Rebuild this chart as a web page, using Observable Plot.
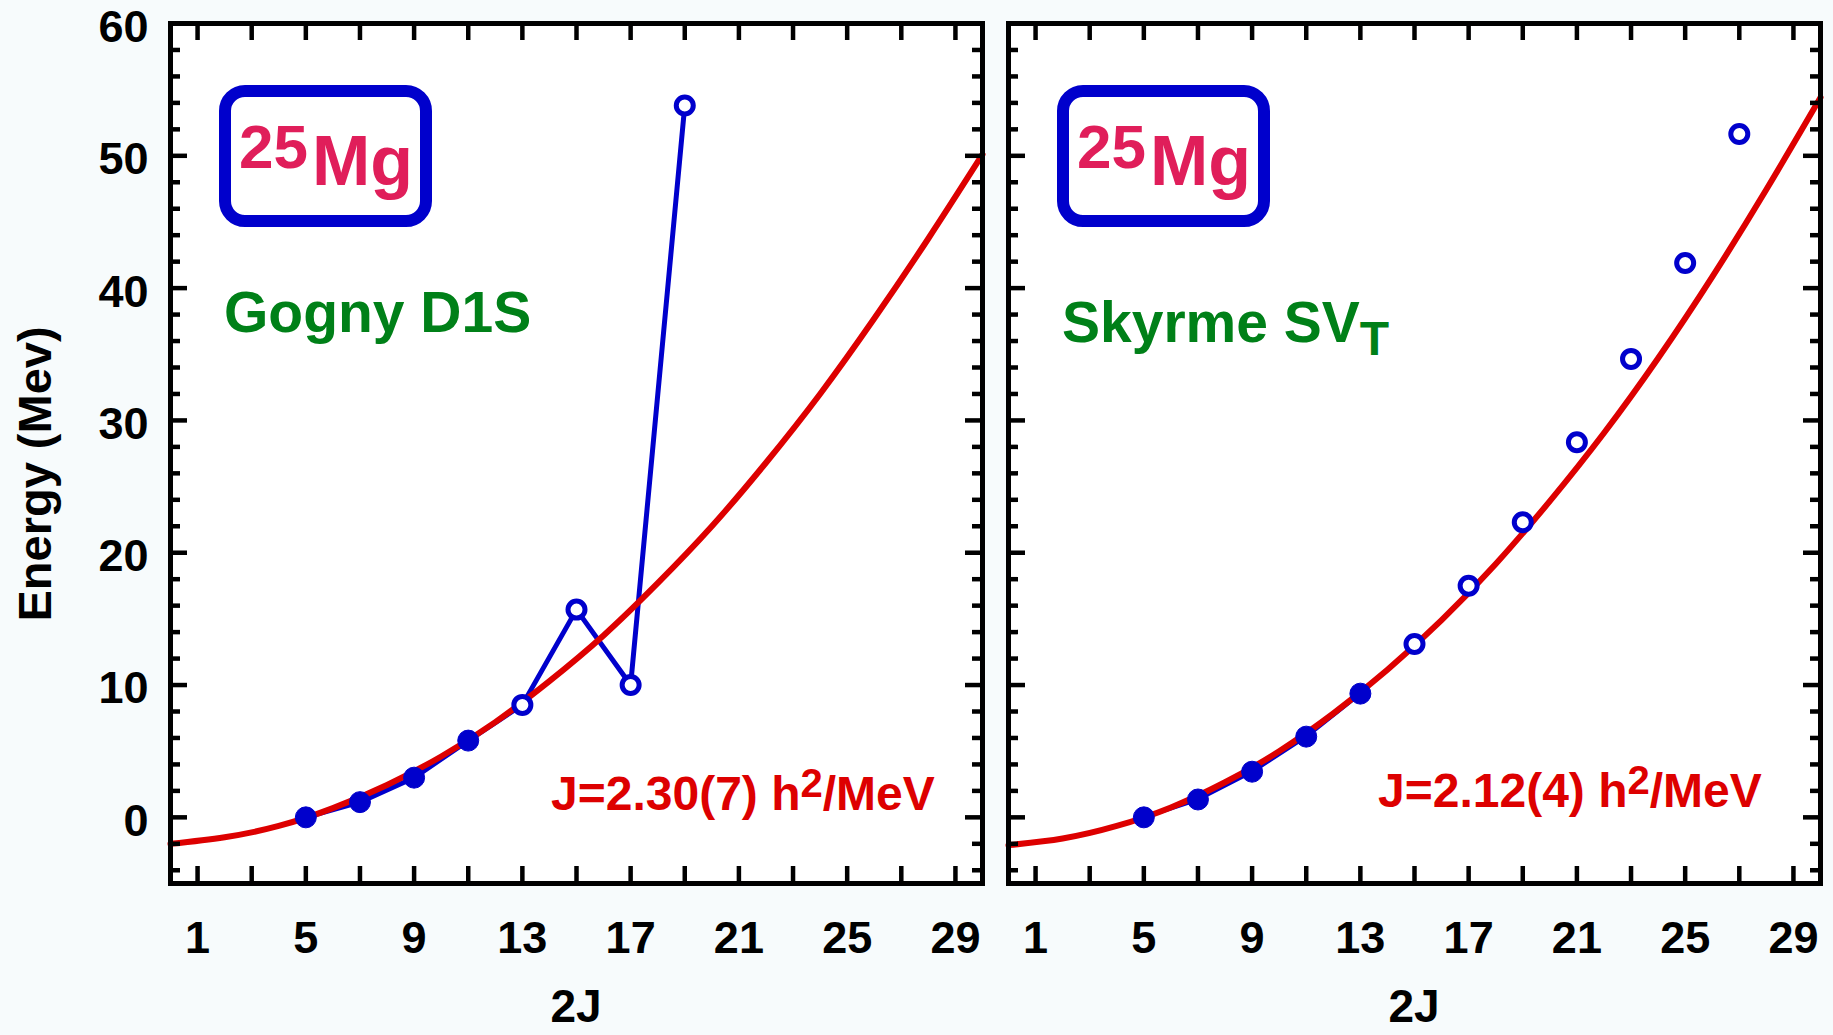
<!DOCTYPE html>
<html>
<head>
<meta charset="utf-8">
<script src="https://cdn.jsdelivr.net/npm/d3@7"></script>
<script src="https://cdn.jsdelivr.net/npm/@observablehq/plot@0.6"></script>
<style>
html, body { margin: 0; padding: 0; background: #f7fbfc; }
#wrap { position: relative; width: 1833px; height: 1035px; overflow: hidden; background: #f7fbfc; }
#wrap svg { position: absolute; top: 0; overflow: visible; }
</style>
</head>
<body>
<div id="wrap"></div>
<script>
// ---------------- data ----------------
// 2J of the calculated states
const stateTwoJ = [5, 7, 9, 11, 13, 15, 17, 19, 21, 23, 25, 27];
// Gogny D1S energies (MeV) for 2J = 5..19
const gognyE = [0.0, 1.15, 3.0, 5.8, 8.5, 15.7, 10.0, 53.8];
// Skyrme SV_T energies (MeV) for 2J = 5..27
const skyrmeE = [0.0, 1.35, 3.45, 6.1, 9.35, 13.1, 17.5, 22.3, 28.35, 34.65, 41.9, 51.65];
// how many of the states (from the lowest) are drawn as filled dots
const gognyFilledCount = 4;
const skyrmeFilledCount = 5;
// fitted rotor curves
const fitTwoJ = [0, 2, 4, 6, 8, 10, 12, 14, 16, 18, 20, 22, 24, 26, 28, 30];
const gognyFit = [-2.0, -1.5, -0.65, 0.7, 2.45, 4.6, 7.2, 10.3, 13.75, 17.7, 22.0, 26.8, 32.0, 37.7, 43.75, 50.1];
const skyrmeFit = [-2.1, -1.6, -0.65, 0.75, 2.65, 5.0, 7.85, 11.15, 14.9, 19.15, 23.9, 29.05, 34.7, 40.85, 47.45, 54.4];
// axes
const xTickLabels = [1, 5, 9, 13, 17, 21, 25, 29];
const xTickMarks = [1, 3, 5, 7, 9, 11, 13, 15, 17, 19, 21, 23, 25, 27, 29];
const yTickLabels = [0, 10, 20, 30, 40, 50, 60];
const yMajorMarks = [0, 10, 20, 30, 40, 50];
const yMinorMarks = [-4, -2, 2, 4, 6, 8, 12, 14, 16, 18, 22, 24, 26, 28, 32, 34, 36, 38, 42, 44, 46, 48, 52, 54, 56, 58];
// texts
const nucleusMass = "25";
const nucleusSymbol = "Mg";
const modelNames = ["Gogny D1S", "Skyrme SV"];
const modelSubscripts = ["", "T"];
const momentTexts = ["J=2.30(7) h", "J=2.12(4) h"];
const yTitle = "Energy (Mev)";
const xTitle = "2J";

// ---------------- style ----------------
const FONT = "'Liberation Sans', Arial, Helvetica, sans-serif";
const BLUE = "#0000cc";
const RED = "#dd0000";
const GREEN = "#008018";
const PINK = "#e01e5a";
const H = 1035, MT = 23, MB = 152;

function panel(cfg) {
  const pw = cfg.width - cfg.mL - cfg.mR;
  const ph = H - MT - MB;
  const pts = cfg.energies.map((e, i) => ({x: stateTwoJ[i], y: e, filled: i < cfg.nFilled}));
  const fitPts = fitTwoJ.map((x, i) => ({x, y: cfg.fit[i]}));
  const linePts = cfg.connectAll ? pts : pts.filter(d => d.filled);
  const tickStyle = {stroke: "black", strokeWidth: 4.5, strokeLinecap: "butt"};
  const marks = [
    Plot.frame({fill: "white", stroke: null}),
    Plot.line(linePts, {x: "x", y: "y", stroke: BLUE, strokeWidth: cfg.connectAll ? 5 : 4}),
    Plot.line(fitPts, {x: "x", y: "y", stroke: RED, strokeWidth: 6, curve: "natural"}),
    Plot.dot(pts.filter(d => d.filled), {x: "x", y: "y", r: 10.5, fill: BLUE, stroke: BLUE, strokeWidth: 1}),
    Plot.dot(pts.filter(d => !d.filled), {x: "x", y: "y", r: 8.5, fill: "white", stroke: BLUE, strokeWidth: 5}),
    Plot.tickX(xTickMarks, {x: d => d, insetTop: ph - 17, ...tickStyle}),
    Plot.tickX(xTickMarks, {x: d => d, insetBottom: ph - 17, ...tickStyle}),
    Plot.tickY(yMajorMarks, {y: d => d, insetRight: pw - 17, ...tickStyle}),
    Plot.tickY(yMajorMarks, {y: d => d, insetLeft: pw - 17, ...tickStyle}),
    Plot.tickY(yMinorMarks, {y: d => d, insetRight: pw - 10, ...tickStyle}),
    Plot.tickY(yMinorMarks, {y: d => d, insetLeft: pw - 10, ...tickStyle}),
    Plot.axisX(xTickLabels, {anchor: "bottom", tickSize: 0, tickPadding: 38, fontSize: 45, fontWeight: "bold", label: null}),
    cfg.showY ? Plot.axisY(yTickLabels, {anchor: "left", tickSize: 0, tickPadding: 22, fontSize: 45, fontWeight: "bold", label: null, dy: 4}) : null,
    Plot.frame({stroke: "black", strokeWidth: 5})
  ].filter(Boolean);

  const svg = Plot.plot({
    width: cfg.width,
    height: H,
    marginLeft: cfg.mL,
    marginRight: cfg.mR,
    marginTop: MT,
    marginBottom: MB,
    x: {domain: [0, 30], label: null, axis: null},
    y: {domain: [-5, 60], label: null, axis: null},
    style: {background: "transparent", fontFamily: FONT, fontWeight: "bold", color: "black", overflow: "visible"},
    marks
  });
  svg.style.left = cfg.left + "px";

  // annotations (positions relative to the plot frame)
  const g = d3.select(svg).append("g")
    .attr("transform", `translate(${cfg.mL},${MT})`)
    .attr("font-family", FONT)
    .attr("font-weight", "bold")
    .attr("text-anchor", "start");
  g.append("rect")
    .attr("x", 55).attr("y", 68).attr("width", 201).attr("height", 130)
    .attr("rx", 20).attr("ry", 20)
    .attr("fill", "white").attr("stroke", BLUE).attr("stroke-width", 12);
  g.append("text").attr("text-anchor", "start").attr("x", 69).attr("y", 145).attr("font-size", 62).attr("fill", PINK).text(nucleusMass);
  g.append("text").attr("text-anchor", "start").attr("x", 142).attr("y", 162).attr("font-size", 70).attr("fill", PINK).text(nucleusSymbol);

  const name = g.append("text").attr("text-anchor", "start").attr("x", 54).attr("y", cfg.nameBaseline).attr("font-size", 57).attr("fill", GREEN);
  name.append("tspan").text(modelNames[cfg.idx]);
  if (modelSubscripts[cfg.idx]) {
    name.append("tspan").attr("font-size", 48).attr("dy", 13).text(modelSubscripts[cfg.idx]);
  }

  const mom = g.append("text").attr("text-anchor", "start").attr("x", cfg.momX).attr("y", cfg.momBaseline).attr("font-size", 48).attr("fill", RED);
  mom.append("tspan").text(momentTexts[cfg.idx]);
  mom.append("tspan").attr("font-size", 40).attr("dy", -13).text("2");
  mom.append("tspan").attr("dy", 13).text("/MeV");

  // x title
  d3.select(svg).append("text")
    .attr("x", cfg.mL + pw / 2).attr("y", 1022)
    .attr("text-anchor", "middle")
    .attr("font-family", FONT).attr("font-weight", "bold").attr("font-size", 46).attr("fill", "black")
    .text(xTitle);

  if (cfg.showY) {
    d3.select(svg).append("text")
      .attr("transform", "translate(51,474) rotate(-90)")
      .attr("text-anchor", "middle")
      .attr("font-family", FONT).attr("font-weight", "bold").attr("font-size", 47).attr("fill", "black")
      .text(yTitle);
  }
  return svg;
}

const wrap = document.getElementById("wrap");
wrap.appendChild(panel({
  idx: 0, left: 0, width: 995, mL: 170, mR: 13, showY: true,
  energies: gognyE, nFilled: gognyFilledCount, fit: gognyFit, connectAll: true,
  nameBaseline: 309, momX: 381, momBaseline: 787
}));
wrap.appendChild(panel({
  idx: 1, left: 995, width: 838, mL: 13, mR: 13, showY: false,
  energies: skyrmeE, nFilled: skyrmeFilledCount, fit: skyrmeFit, connectAll: false,
  nameBaseline: 319, momX: 370, momBaseline: 784
}));
</script>
</body>
</html>
